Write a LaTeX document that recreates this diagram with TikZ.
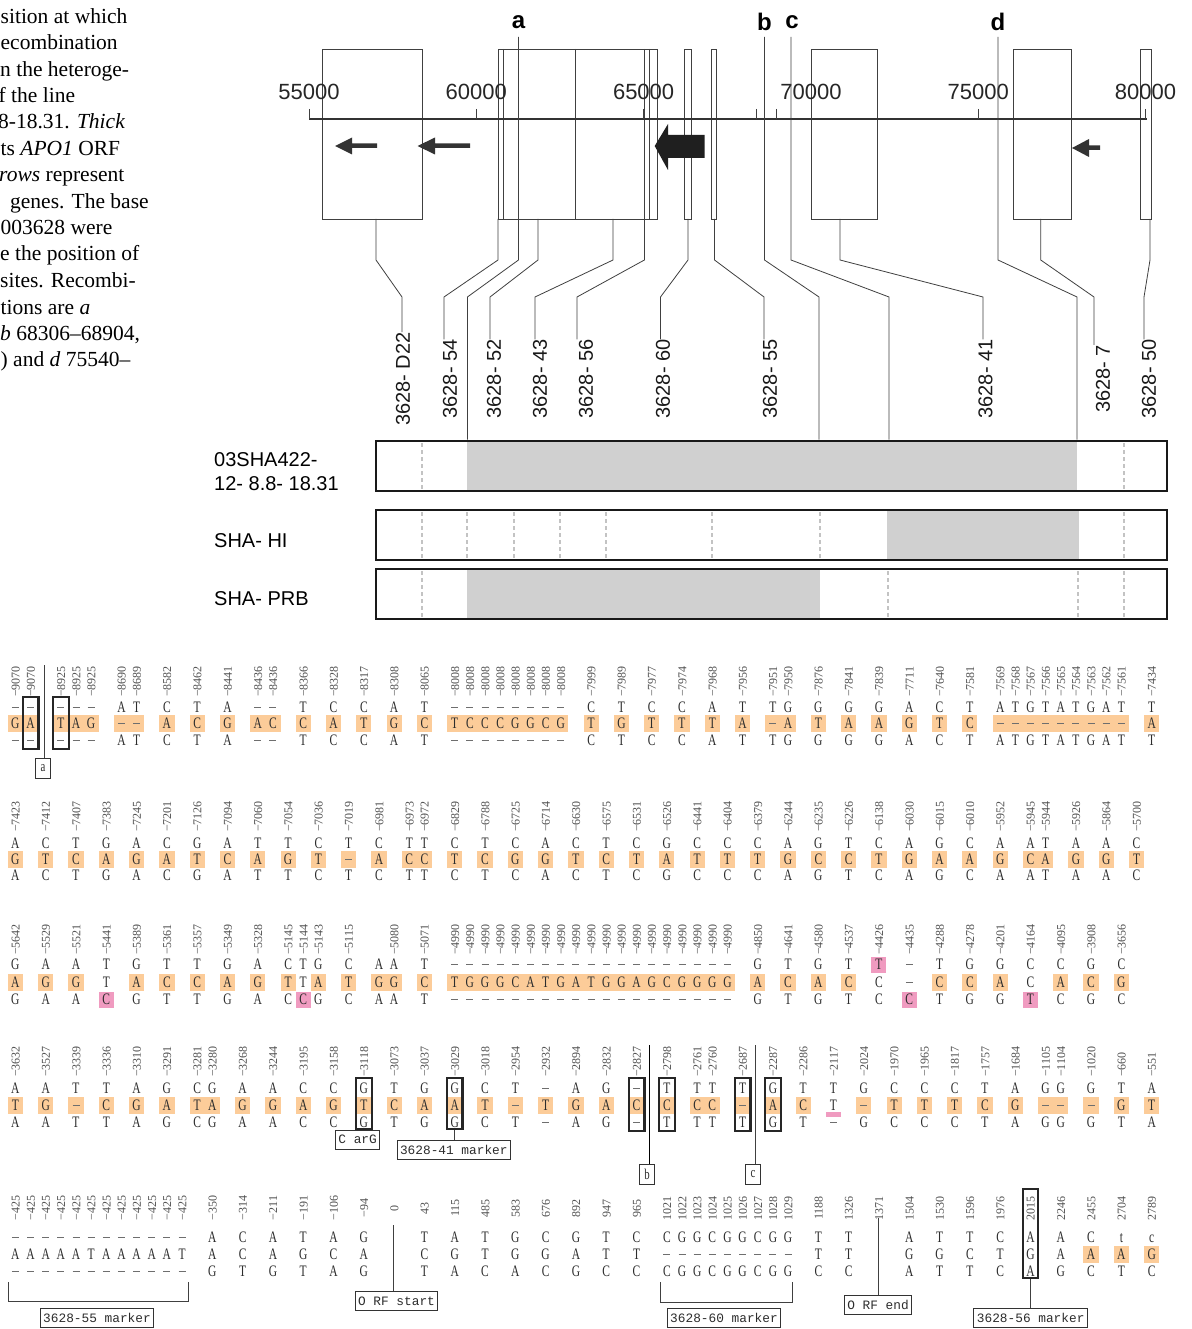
\documentclass[tikz,border=0pt]{standalone}
\usepackage{fontspec}
\setmainfont{Liberation Serif}
\newfontfamily\sansf{Liberation Sans}
\newfontfamily\seqf[FakeStretch=0.72]{Liberation Serif}
\newfontfamily\monof{Liberation Mono}
\definecolor{hlc}{RGB}{252,204,153}
\definecolor{pkc}{RGB}{240,155,192}
\definecolor{grc}{RGB}{208,208,208}
\definecolor{dsc}{RGB}{195,195,195}
\definecolor{txc}{RGB}{45,45,45}
\definecolor{lbc}{RGB}{80,80,80}
\definecolor{dshc}{RGB}{110,110,110}
\def\dashc{-}
\newcommand\sq[1]{\ifx#1\dashc\textcolor{dshc}{\rule[4.3pt]{7pt}{1.1pt}}\else#1\fi}
\newcommand\cx[1]{15.4+15.15*(#1)}
\newcommand\seqrow[7]{%
 \foreach \n/\lb/\tp/\md/\bt in {#7}{%
  \node[numlab,anchor=#3] (#1l\n) at ({\cx{\n}},#2) {\lb};
  \node[nt] (#1t\n) at ({\cx{\n}},#4) {\sq\tp};
  \node[nt] (#1m\n) at ({\cx{\n}},#5) {\sq\md};
  \node[nt] (#1b\n) at ({\cx{\n}},#6) {\sq\bt};
 }}
\newcommand\hlrow[2]{\foreach \ha/\hb in {#2}{\fill[hlc] ({\cx{\ha}-7.6},#1-8.5) rectangle ({\cx{\hb}+7.6},#1+8.5);}}
\newcommand\pk[2]{\fill[pkc] ({\cx{#1}-7.5},#2-8) rectangle ({\cx{#1}+7.5},#2+8);}
\newcommand\frm[4]{\node[frmst, minimum height=#4] (#1) at ({\cx{#2}},#3) {};}
\newcommand\mconn[6]{% name, box-bottom x, kink x, label x, text
 \node[mlab] (l#1) at (#4,379) {#5};
 \coordinate (s#1) at (#2,219);
 \draw[conn] (s#1) -- ++(0,41) -- (#3,297) -- (#3,0 |- l#1.east);}
\begin{document}
\begin{tikzpicture}[x=1pt,y=-1pt,
 conn/.style={draw=black!75, line width=0.8pt},
 gbox/.style={draw=black!75, line width=0.8pt},
 numlab/.style={font=\fontsize{12}{12}\selectfont, text=lbc, inner sep=0pt, rotate=90, text height=8.5pt, text depth=0pt},
 nt/.style={font=\seqf\fontsize{16}{16}\selectfont, text=txc, inner sep=0pt, text height=10.5pt, text depth=0pt},
 frmst/.style={draw=black!85, line width=2.3pt, minimum width=15.6pt, inner sep=0pt},
 mbox/.style={draw=black!80, line width=0.9pt, font=\monof\fontsize{12.8}{13}\selectfont, inner xsep=3pt, inner ysep=2pt, minimum height=19pt, text=txc},
 sbox/.style={draw=black!80, line width=0.9pt, font=\seqf\fontsize{15}{15}\selectfont, minimum width=15pt, minimum height=20pt, inner sep=0pt, text=txc},
 mlab/.style={font=\sansf\fontsize{20}{20}\selectfont, rotate=90, inner sep=0pt, text=black!90},
 tlab/.style={font=\sansf\fontsize{22}{22}\selectfont, inner sep=0pt, text=black!85},
 ltr/.style={font=\sansf\bfseries\fontsize{24}{24}\selectfont, inner sep=0pt},
 slab/.style={font=\sansf\fontsize{20}{20}\selectfont, inner sep=0pt, anchor=west},
 captxt/.style={anchor=base west, inner sep=0pt, font=\fontsize{21.5}{26}\selectfont},
 strainbox/.style={draw=black!90, line width=2.6pt, minimum width=791pt, minimum height=50pt, inner sep=0pt},
 dsh/.style={draw=dsc, line width=1.6pt, dash pattern=on 4pt off 3pt},
 arw/.style={fill=black!80}
]
\useasboundingbox (0,0) rectangle (1191,1329);
\fill[white] (0,0) rectangle (1191,1329);

% ---------- caption fragment ----------
\node[captxt] (c1) at (0.5,23.5) {sition at which};
\node[captxt] (c2) at (0.5,50) {ecombination};
\node[captxt] (c3) at (0,76.3) {n the heteroge-};
\node[captxt] (c4) at (-1.5,102.7) {f the line};
\node[captxt] (c5) at (-2,129) {8-18.31. \textit{Thick}};
\node[captxt] (c6) at (0.5,155.5) {ts \textit{APO1} ORF};
\node[captxt] (c7) at (-1,182) {\textit{rows} represent};
\node[captxt] (c8) at (10,208.3) {genes. The base};
\node[captxt] (c9) at (0.5,234.7) {003628 were};
\node[captxt] (c10) at (0,261) {e the position of};
\node[captxt] (c11) at (0,287.5) {sites. Recombi-};
\node[captxt] (c12) at (0.5,314) {tions are \textit{a}};
\node[captxt] (c13) at (0,340.3) {\textit{b} 68306–68904,};
\node[captxt] (c14) at (0.5,366.7) {) and \textit{d} 75540–};

% ---------- physical map ----------
\draw[gbox] (322.7,49) rectangle (422.7,219);
\draw[gbox] (498,49) rectangle (657.6,219);
\foreach \vx in {503.7,575.5,644.4,649.5} \draw[gbox] (\vx,49) -- (\vx,219);
\draw[gbox] (684.6,49) rectangle (690.9,219);
\draw[gbox] (711.6,49) rectangle (716.8,219);
\draw[gbox] (811,49) rectangle (877,219);
\draw[gbox] (1013,49) rectangle (1071,219);
\draw[gbox] (1140.7,49) rectangle (1151.6,219);

% gene arrows
\fill[arw] (335,146) -- (352,137.5) -- (352,143.5) -- (377,143.5) -- (377,148) -- (352,148) -- (352,154.5) -- cycle;
\fill[arw] (417.5,146) -- (435,137.5) -- (435,143.5) -- (470,143.5) -- (470,148) -- (435,148) -- (435,154.5) -- cycle;
\fill[arw] (1072,148) -- (1089,139) -- (1089,145.5) -- (1100,145.5) -- (1100,150) -- (1089,150) -- (1089,157) -- cycle;
\fill[black!88] (654.7,146) -- (668,124) -- (668,135) -- (704.7,135) -- (704.7,158) -- (668,158) -- (668,170) -- cycle;

% axis
\draw[black!80, line width=2.8pt] (309,119) -- (1147,119);
\foreach \tx/\tl in {309/55000,476.3/60000,643.6/65000,810.9/70000,978.2/75000,1145.5/80000}{
  \draw[black!75, line width=0.8pt] (\tx,109) -- (\tx,119);
  \node[tlab] (t\tl) at (\tx,92) {\tl};
}
\foreach \tx in {756.4,776.5} \draw[black!75, line width=0.8pt] (\tx,109) -- (\tx,119);

% recombination letters
\node[ltr] (La) at (518.5,22) {a};
\node[ltr] (Lb) at (764.5,22) {b};
\node[ltr] (Lc) at (792,22) {c};
\node[ltr] (Ld) at (998,22) {d};

% strain bars
\fill[grc] (466.5,441) rectangle (1077,491);
\fill[grc] (887,510) rectangle (1079,560);
\fill[grc] (467,569) rectangle (820,619);
\foreach \dx in {422,1124} \draw[dsh] (\dx,443) -- (\dx,489);
\foreach \dx in {422,467,514,560,606,712,820,1124} \draw[dsh] (\dx,512) -- (\dx,558);
\foreach \dx in {422,888,1078,1124} \draw[dsh] (\dx,571) -- (\dx,617);
\node[strainbox] (st1) at (771.5,466) {};
\node[strainbox] (st2) at (771.5,535) {};
\node[strainbox] (st3) at (771.5,594) {};
\node[slab] (n1) at (214,460) {03SHA422-};
\node[slab] (n1b) at (214,484) {12- 8.8- 18.31};
\node[slab] (n2) at (214,541) {SHA- HI};
\node[slab] (n3) at (214,599) {SHA- PRB};

% marker labels and connectors
\mconn{D22}{376}{402}{403}{3628- D22}{}
\mconn{54}{498}{444}{450}{3628- 54}{}
\mconn{52}{538}{490}{494}{3628- 52}{}
\mconn{43}{613}{535}{540}{3628- 43}{}
\mconn{56}{644.4}{577}{586}{3628- 56}{}
\mconn{60}{688}{660.5}{663}{3628- 60}{}
\mconn{55}{714.5}{764}{770}{3628- 55}{}
\mconn{41}{840}{983}{985.5}{3628- 41}{}
\mconn{7}{1040.7}{1094}{1103}{3628- 7}{}
\mconn{50}{1150}{1144}{1149}{3628- 50}{}

\coordinate (ta) at (518.5,37);
\coordinate (tb) at (764.5,37);
\coordinate (tc) at (791,37);
\coordinate (td) at (998,37);
\draw[conn] (ta) -- (518.5,260) -- (467.4,297) -- (467.4,0 |- st1.north);
\draw[conn] (tb) -- (764.5,260) -- (819,297) -- (819,0 |- st1.north);
\draw[conn] (tc) -- (791,260) -- (889,297) -- (889,0 |- st1.north);
\draw[conn] (td) -- (998,260) -- (1077,297) -- (1077,0 |- st1.north);

% ---------- sequence alignment ----------
% highlights
\hlrow{723}{0/1,3/5,7/8,10/10,12/12,14/14,16/17,19/19,21/21,23/23,25/25,27/27,29/36,38/38,40/40,42/42,44/44,46/46,48/48,50/51,53/53,55/55,57/57,59/59,61/61,63/63,65/73,75/75}
\hlrow{859}{0/0,2/2,4/4,6/6,8/8,10/10,12/12,14/14,16/16,18/18,20/20,22/22,24/24,26/27,29/29,31/31,33/33,35/35,37/37,39/39,41/41,43/43,45/45,47/47,49/49,51/51,53/53,55/55,57/57,59/59,61/61,63/63,65/65,67/68,70/70,72/72,74/74}
\hlrow{982}{0/0,2/2,4/4,8/8,10/10,12/12,14/14,16/16,18/18,20/20,22/22,24/25,27/27,29/47,49/49,51/51,53/53,55/55,61/61,63/63,65/65,69/69,71/71,73/73}
\hlrow{1105.5}{0/0,2/2,4/4,6/6,8/8,10/10,12/13,15/15,17/17,19/19,21/21,23/23,25/25,27/27,29/29,31/31,33/33,35/35,37/37,39/39,41/41,43/43,45/46,48/48,50/50,52/52,56/56,58/58,60/60,62/62,64/64,66/66,68/69,71/71,73/73,75/75}
\hlrow{1254}{71/71,73/73,75/75}
% pink marks
\pk{6}{999.5}\pk{19}{999.5}\pk{59}{999.5}\pk{67}{999.5}\pk{57}{964.5}
\fill[pkc] ({\cx{54}-7.7},1111.7) rectangle ({\cx{54}+7.7},1116.7);

% row 1
\seqrow{ra}{697}{west}{707}{723}{740}{0/−9070/-/G/-,1/−9070/-/A/-,3/−8925/-/T/-,4/−8925/-/A/-,5/−8925/-/G/-,7/−8690/A/-/A,8/−8689/T/-/T,10/−8582/C/A/C,12/−8462/T/C/T,14/−8441/A/G/A,16/−8436/-/A/-,17/−8436/-/C/-,19/−8366/T/C/T,21/−8328/C/A/C,23/−8317/C/T/C,25/−8308/A/G/A,27/−8065/T/C/T,
29/−8008/-/T/-,30/−8008/-/C/-,31/−8008/-/C/-,32/−8008/-/C/-,33/−8008/-/G/-,34/−8008/-/G/-,35/−8008/-/C/-,36/−8008/-/G/-,
38/−7999/C/T/C,40/−7989/T/G/T,42/−7977/C/T/C,44/−7974/C/T/C,46/−7968/A/T/A,48/−7956/T/A/T,50/−7951/T/-/T,51/−7950/G/A/G,53/−7876/G/T/G,55/−7841/G/A/G,57/−7839/G/A/G,59/−7711/A/G/A,61/−7640/C/T/C,63/−7581/T/C/T,
65/−7569/A/-/A,66/−7568/T/-/T,67/−7567/G/-/G,68/−7566/T/-/T,69/−7565/A/-/A,70/−7564/T/-/T,71/−7563/G/-/G,72/−7562/A/-/A,73/−7561/T/-/T,75/−7434/T/A/T}
% row 2
\seqrow{rb}{832}{west}{843}{859}{875}{0/−7423/A/G/A,2/−7412/C/T/C,4/−7407/T/C/T,6/−7383/G/A/G,8/−7245/A/G/A,10/−7201/C/A/C,12/−7126/G/T/G,14/−7094/A/C/A,16/−7060/T/A/T,18/−7054/T/G/T,20/−7036/C/T/C,22/−7019/T/-/T,24/−6981/C/A/C,26/−6973/T/C/T,27/−6972/T/C/T,29/−6829/C/T/C,31/−6788/T/C/T,33/−6725/C/G/C,35/−6714/A/G/A,37/−6630/C/T/C,
39/−6575/T/C/T,41/−6531/C/T/C,43/−6526/G/A/G,45/−6441/C/T/C,47/−6404/C/T/C,49/−6379/C/T/C,51/−6244/A/G/A,53/−6235/G/C/G,55/−6226/T/C/T,57/−6138/C/T/C,59/−6030/A/G/A,61/−6015/G/A/G,63/−6010/C/A/C,65/−5952/A/G/A,67/−5945/A/C/A,68/−5944/T/A/T,70/−5926/A/G/A,72/−5864/A/G/A,74/−5700/C/T/C}
% row 3
\seqrow{rc}{955}{west}{964.5}{982}{999.5}{0/−5642/G/A/G,2/−5529/A/G/A,4/−5521/A/G/A,6/−5441/T/T/C,8/−5389/G/A/G,10/−5361/T/C/T,12/−5357/T/C/T,14/−5349/G/A/G,16/−5328/A/G/A,18/−5145/C/T/C,19/−5144/T/T/C,20/−5143/G/A/G,22/−5115/C/T/C,24//A/G/A,25/−5080/A/G/A,27/−5071/T/C/T,
29/−4990/-/T/-,30/−4990/-/G/-,31/−4990/-/G/-,32/−4990/-/G/-,33/−4990/-/C/-,34/−4990/-/A/-,35/−4990/-/T/-,36/−4990/-/G/-,37/−4990/-/A/-,38/−4990/-/T/-,39/−4990/-/G/-,40/−4990/-/G/-,41/−4990/-/A/-,42/−4990/-/G/-,43/−4990/-/C/-,44/−4990/-/G/-,45/−4990/-/G/-,46/−4990/-/G/-,47/−4990/-/G/-,
49/−4850/G/A/G,51/−4641/T/C/T,53/−4580/G/A/G,55/−4537/T/C/T,57/−4426/T/C/C,59/−4435/-/-/C,61/−4288/T/C/T,63/−4278/G/C/G,65/−4201/G/A/G,67/−4164/C/C/T,69/−4095/C/A/C,71/−3908/G/C/G,73/−3656/C/G/C}
% row 4
\frm{f23}{23}{1103.5}{51}\frm{f29}{29}{1103.5}{51}
\frm{f41}{41}{1104.5}{53}\frm{f43}{43}{1104.5}{53}\frm{f48}{48}{1104.5}{53}\frm{f50}{50}{1104.5}{53}
\seqrow{rd}{1077}{west}{1088}{1105.5}{1122}{0/−3632/A/T/A,2/−3527/A/G/A,4/−3339/T/-/T,6/−3336/T/C/T,8/−3310/A/G/A,10/−3291/G/A/G,12/−3281/C/T/C,13/−3280/G/A/G,15/−3268/A/G/A,17/−3244/A/G/A,19/−3195/C/A/C,21/−3158/C/G/C,23/−3118/G/T/G,25/−3073/T/C/T,27/−3037/G/A/G,29/−3029/G/A/G,31/−3018/C/T/C,33/−2954/T/-/T,35/−2932/-/T/-,37/−2894/A/G/A,
39/−2832/G/A/G,41/−2827/-/C/-,43/−2798/T/C/T,45/−2761/T/C/T,46/−2760/T/C/T,48/−2687/T/-/T,50/−2287/G/A/G,52/−2286/T/C/T,54/−2117/T/T/-,56/−2024/G/-/G,58/−1970/C/T/C,60/−1965/C/T/C,62/−1817/C/T/C,64/−1757/T/C/T,66/−1684/A/G/A,68/−1105/G/-/G,69/−1104/G/-/G,71/−1020/G/-/G,73/−660/T/G/T,75/−551/A/T/A}
% row 1 frames
\frm{fA1}{1}{723}{52}\frm{fA3}{3}{723}{52}
% row 5
\frm{f67}{67}{1233.5}{89}
\seqrow{re}{1208}{center}{1237}{1254}{1271}{0/−425/-/A/-,1/−425/-/A/-,2/−425/-/A/-,3/−425/-/A/-,4/−425/-/A/-,5/−425/-/T/-,6/−425/-/A/-,7/−425/-/A/-,8/−425/-/A/-,9/−425/-/A/-,10/−425/-/A/-,11/−425/-/T/-,
13/−350/A/A/G,15/−314/C/C/T,17/−211/A/A/G,19/−191/T/G/T,21/−106/A/C/A,23/−94/G/A/G,27/43/T/C/T,29/115/A/G/A,31/485/T/T/C,33/583/G/G/A,35/676/C/G/C,37/892/G/A/G,39/947/T/T/C,41/965/C/T/C,
43/1021/C/-/C,44/1022/G/-/G,45/1023/G/-/G,46/1024/C/-/C,47/1025/G/-/G,48/1026/G/-/G,49/1027/C/-/C,50/1028/G/-/G,51/1029/G/-/G,
53/1188/T/T/C,55/1326/T/T/C,59/1504/A/G/A,61/1530/T/G/T,63/1596/T/C/T,65/1976/C/T/C,67/2015/A/G/A,69/2246/A/A/G,71/2455/C/A/C,73/2704/t/A/T,75/2789/c/G/C}
\node[numlab] (rel25) at ({\cx{25}},1208) {0};
\node[numlab] (rel57) at ({\cx{57}},1208) {1371};

% annotation boxes and connectors
\node[sbox] (ba) at (43,768) {a};
\coordinate (qa) at (44.6,665);
\draw[conn] (qa) -- (qa |- ba.north);
\node[mbox] (carg) at (357.6,1139.5) {C arG};
\node[mbox] (mk41) at (453.8,1149.5) {3628-41 marker};
\draw[conn] (f29.south) -- (f29.south |- mk41.north);
\node[sbox] (bb) at (647,1174) {b};
\coordinate (qb) at (649.6,1045);
\draw[draw=black, line width=1pt] (qb) -- (qb |- bb.north);
\node[sbox] (bc) at (753,1174) {c};
\coordinate (qc) at (755.4,1045);
\draw[conn] (qc) -- (qc |- bc.north);

\draw[conn] (8.5,1282) -- (8.5,1301) -- (188.5,1301) -- (188.5,1282);
\node[mbox] (mk55) at (97,1317.5) {3628-55 marker};
\draw[conn] (660.4,1282) -- (660.4,1302.7) -- (792,1302.7) -- (792,1282);
\node[mbox] (mk60) at (724,1318) {3628-60 marker};
\node[mbox] (orfs) at (396.5,1301) {O RF start};
\coordinate (qs) at (393,1225);
\draw[conn] (qs) -- (qs |- orfs.north);
\node[mbox] (orfe) at (878,1305) {O RF end};
\coordinate (qe) at (878,1218);
\draw[conn] (qe) -- (qe |- orfe.north);
\node[mbox] (mk56) at (1030.7,1318) {3628-56 marker};
\draw[conn] (f67.south) -- (f67.south |- mk56.north);
\end{tikzpicture}
\end{document}
